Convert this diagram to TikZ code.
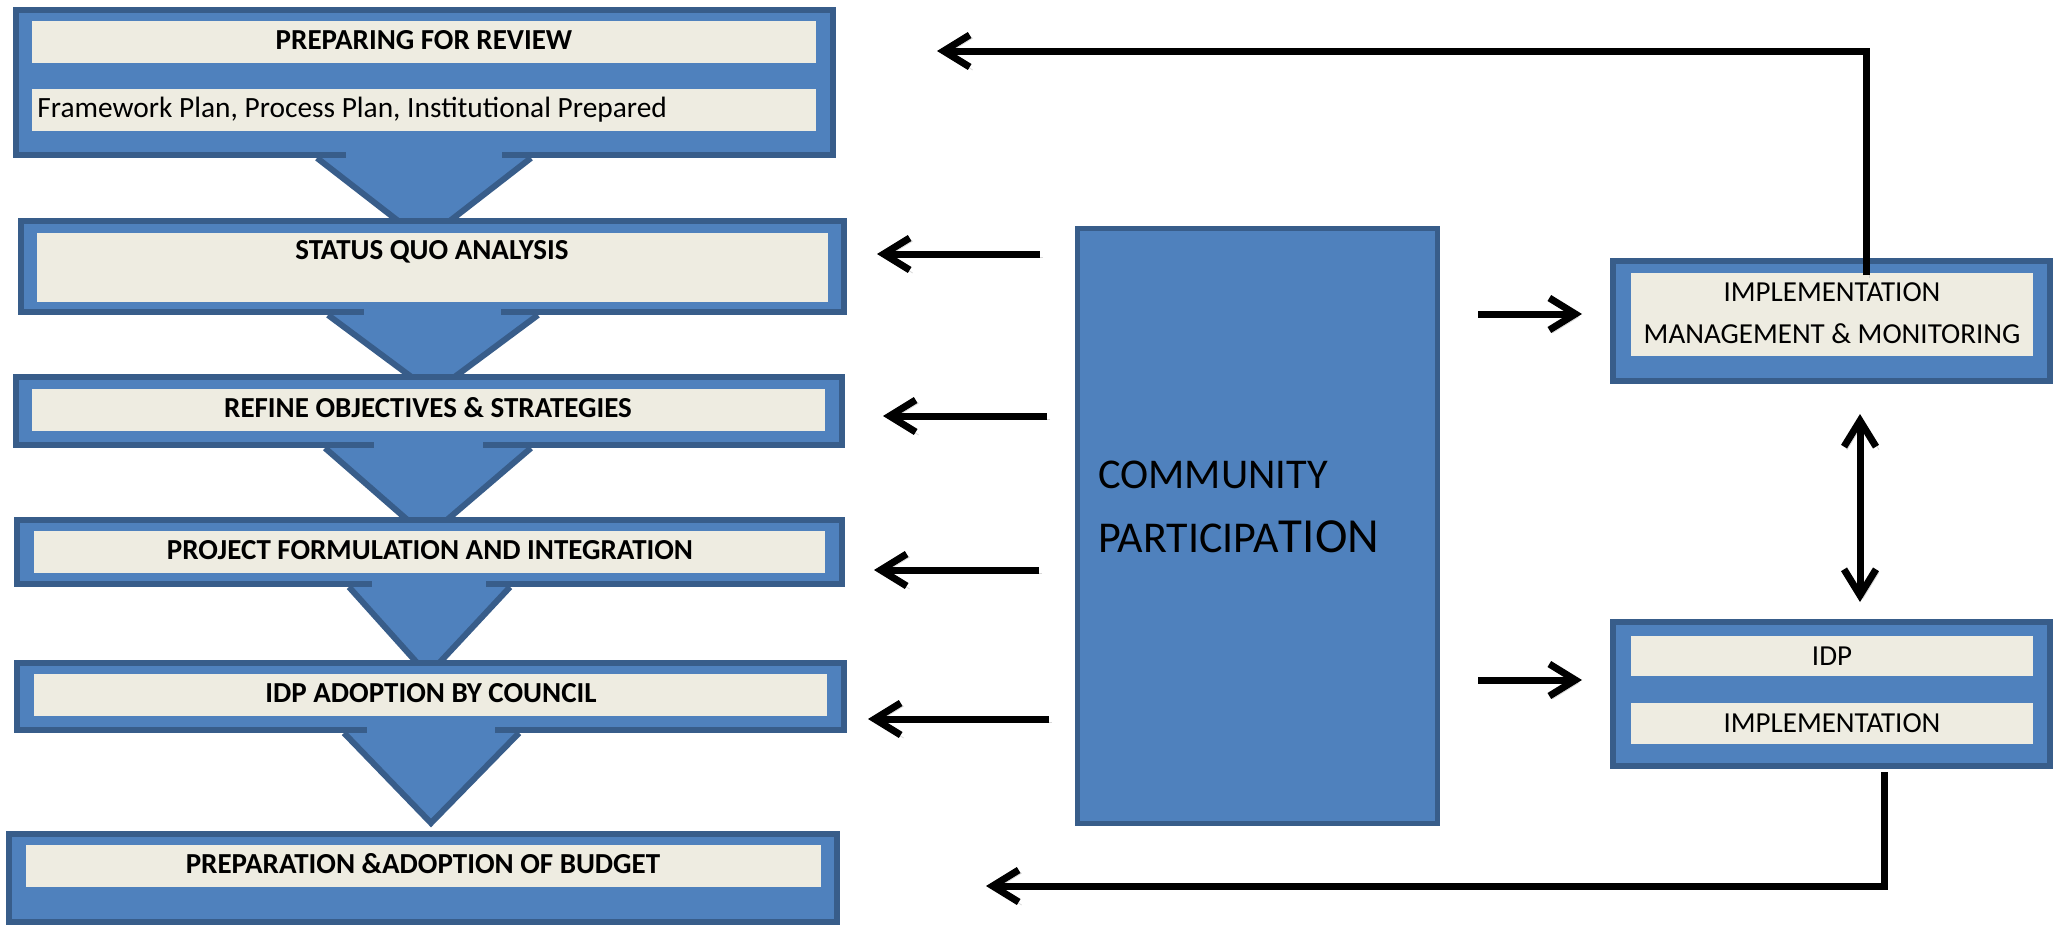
\documentclass[tikz,border=0pt]{standalone}
\usepackage{fontspec}
\setmainfont{Carlito}
\usetikzlibrary{fit,arrows.meta}
\definecolor{boxc}{HTML}{4F81BD}
\definecolor{bordc}{HTML}{385D8A}
\definecolor{barc}{HTML}{EEECE1}
\tikzset{
  outerbox/.style={draw=bordc, fill=boxc, line width=3pt, inner sep=0pt},
  bar/.style={fill=barc, inner sep=0pt},
  boldtxt/.style={font=\fontsize{14.5}{17}\selectfont\bfseries, inner sep=0pt},
  regtxt/.style={font=\fontsize{14.5}{21}\selectfont, inner sep=0pt, align=center},
  funnel/.style={fill=boxc},
  funnelside/.style={draw=bordc, line width=3pt},
  patch/.style={fill=boxc},
  arr/.style={line width=3.5pt, -{Straight Barb[length=13pt,width=16pt]},
    preaction={draw=black!30, opacity=0.5, transform canvas={shift={(1.5pt,-1.5pt)}}}},
  darr/.style={line width=3.5pt, {Straight Barb[length=13pt,width=16pt]}-{Straight Barb[length=13pt,width=16pt]},
    preaction={draw=black!30, opacity=0.5, transform canvas={shift={(1.5pt,-1.5pt)}}}},
}
\begin{document}
\begin{tikzpicture}[x=0.5pt,y=-0.5pt]
\useasboundingbox (0,0) rectangle (2063,926);
% funnels (behind boxes)
\fill[funnel] (317,158) -- (531,158) -- (424,241) -- cycle;
\draw[funnelside] (317,158) -- (424,241) -- (531,158);
\fill[funnel] (328,315) -- (538,315) -- (433,393) -- cycle;
\draw[funnelside] (328,315) -- (433,393) -- (538,315);
\fill[funnel] (325,448) -- (531,448) -- (427,537) -- cycle;
\draw[funnelside] (325,448) -- (427,537) -- (531,448);
\fill[funnel] (349,587) -- (510,587) -- (428,675) -- cycle;
\draw[funnelside] (349,587) -- (428,675) -- (510,587);
\fill[funnel] (344,733) -- (519,733) -- (431,823) -- cycle;
\draw[funnelside] (344,733) -- (431,823) -- (519,733);
% outer boxes
\node[outerbox, fit={(16,10) (833,155)}] (b1) {};
\node[outerbox, fit={(21,221) (844,312)}] (b2) {};
\node[outerbox, fit={(16,377) (842,445)}] (b3) {};
\node[outerbox, fit={(17,520) (842,584)}] (b4) {};
\node[outerbox, fit={(17,663) (844,730)}] (b5) {};
\node[outerbox, fit={(9,834) (837,922)}] (b6) {};
\node[outerbox, line width=2.5pt, fit={(1077,228) (1437,823)}] (comm) {};
\node[outerbox, fit={(1613,261) (2050,381)}] (imm) {};
\node[outerbox, fit={(1613,622) (2050,766)}] (idp) {};
% gaps in bottom borders where the funnels leave
\fill[patch] (346,151) rectangle (502,160);
\fill[patch] (364,308) rectangle (501,317);
\fill[patch] (374,441) rectangle (483,450);
\fill[patch] (372,580) rectangle (486,589);
\fill[patch] (367,726) rectangle (495,735);
% inner bars
\node[bar, fit={(32,21) (816,63)}] (bar1a) {};
\node[bar, fit={(32,89) (816,131)}] (bar1b) {};
\node[bar, fit={(37,233) (828,302)}] (bar2) {};
\node[bar, fit={(32,389) (825,431)}] (bar3) {};
\node[bar, fit={(34,531) (825,573)}] (bar4) {};
\node[bar, fit={(34,674) (827,716)}] (bar5) {};
\node[bar, fit={(26,845) (821,887)}] (bar6) {};
\node[bar, fit={(1631,273) (2033,356)}] (barimm) {};
\node[bar, fit={(1631,636) (2033,676)}] (baridp1) {};
\node[bar, fit={(1631,703) (2033,744)}] (baridp2) {};
% texts
\node[boldtxt] (t1a) at (424,40) {PREPARING FOR REVIEW};
\node[inner sep=0pt, font=\fontsize{14.7}{17}\selectfont, anchor=base west] (t1b) at (37,117) {Framework Plan, Process Plan, Institutional Prepared};
\node[boldtxt] (t2) at (432,252) {STATUS QUO ANALYSIS};
\node[boldtxt] (t3) at (428,408) {REFINE OBJECTIVES \& STRATEGIES};
\node[boldtxt] (t4) at (430,550) {PROJECT FORMULATION AND INTEGRATION};
\node[boldtxt] (t5) at (431,693) {IDP ADOPTION BY COUNCIL};
\node[boldtxt] (t6) at (423,864) {PREPARATION \&ADOPTION OF BUDGET};
\node[regtxt] (timm) at (1832,313) {IMPLEMENTATION\\MANAGEMENT \& MONITORING};
\node[regtxt] (tidp1) at (baridp1.center) {IDP};
\node[regtxt] (tidp2) at (baridp2.center) {IMPLEMENTATION};
% community text
\node[inner sep=0pt, anchor=base west, font=\fontsize{21.2}{24}\selectfont] (tc1) at (1098,488) {COMMUNITY};
\node[inner sep=0pt, anchor=base west] (tc2) at (1098,552) {{\fontsize{22}{24}\selectfont PARTICIPA}{\fontsize{24.5}{24}\selectfont TION}};
% connectors
\coordinate (u1) at (1866,275);
\coordinate (u2) at (1866,51);
\coordinate (u3) at (937,51);
\draw[arr] (u1) -- (u2) -- (u3);
\coordinate (s2) at (1040,254); \coordinate (e2) at (877,254);
\coordinate (s3) at (1047,416); \coordinate (e3) at (883,416);
\coordinate (s4) at (1039,570); \coordinate (e4) at (874,570);
\coordinate (s5) at (1049,719); \coordinate (e5) at (868,719);
\draw[arr] (s2) -- (e2);
\draw[arr] (s3) -- (e3);
\draw[arr] (s4) -- (e4);
\draw[arr] (s5) -- (e5);
\coordinate (r1s) at (1478,314); \coordinate (r1e) at (1582,314);
\coordinate (r2s) at (1478,680); \coordinate (r2e) at (1582,680);
\draw[arr] (r1s) -- (r1e);
\draw[arr] (r2s) -- (r2e);
\coordinate (d1) at (1860,414); \coordinate (d2) at (1860,602);
\draw[darr] (d1) -- (d2);
\coordinate (w1) at (1884,772);
\coordinate (w2) at (1884,886);
\coordinate (w3) at (986,886);
\draw[arr] (w1) -- (w2) -- (w3);
\end{tikzpicture}
\end{document}
